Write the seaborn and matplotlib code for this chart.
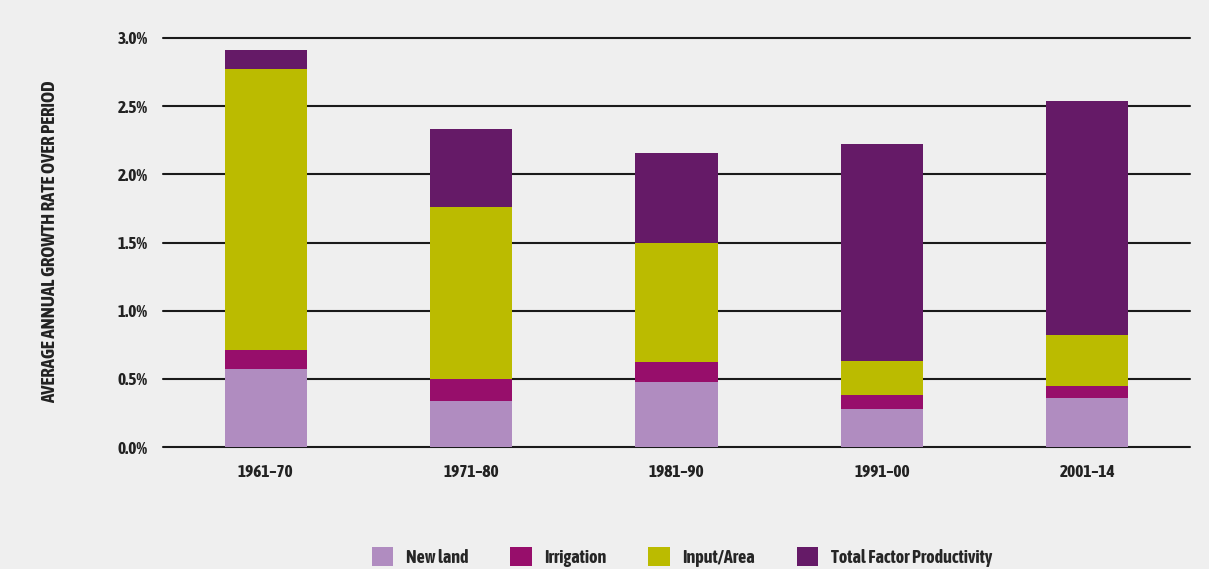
import numpy as np
import pandas as pd
import matplotlib
matplotlib.use("Agg")
import matplotlib.pyplot as plt
import seaborn as sns
from matplotlib import font_manager
from matplotlib.patches import Patch
from matplotlib.ticker import FuncFormatter

# data (percent)
periods = ["1961\u201370", "1971\u201380", "1981\u201390", "1991\u201300", "2001\u201314"]
new_land = [0.57, 0.34, 0.48, 0.28, 0.36]
irrigation = [0.14, 0.16, 0.14, 0.10, 0.09]
input_area = [2.06, 1.26, 0.88, 0.25, 0.37]
tfp = [0.14, 0.57, 0.66, 1.59, 1.72]

series_names = ["New land", "Irrigation", "Input/Area", "Total Factor Productivity"]
colors = ["#b08cc0", "#970e6b", "#bbbb00", "#651a67"]

BG = "#efefef"
sns.set_style("white")

# look for a narrow face that also has a bold cut, the original uses a condensed sans
def _is_narrow(f):
    n = f.name.lower()
    return "narrow" in n or "condensed" in n

narrow_bold = sorted({f.name for f in font_manager.fontManager.ttflist
                      if _is_narrow(f) and (f.weight in ("bold", 700) or
                                            (isinstance(f.weight, int) and f.weight >= 600))})
narrow_any = sorted({f.name for f in font_manager.fontManager.ttflist if _is_narrow(f)})
narrow = narrow_bold or narrow_any
plt.rcParams["font.family"] = narrow[:1] + ["DejaVu Sans"]
fs = 12.5 if narrow else 10

df = pd.DataFrame({"period": periods, "New land": new_land, "Irrigation": irrigation,
                   "Input/Area": input_area, "Total Factor Productivity": tfp})
cum = df[series_names].cumsum(axis=1)

fig = plt.figure(figsize=(12.09, 5.69), dpi=100, facecolor=BG)
ax = fig.add_axes([163 / 1209, 1 - 447 / 569, 1027 / 1209, 409 / 569])
ax.set_facecolor(BG)

# draw cumulative layers from top to bottom so each covers the one below
for name, col in reversed(list(zip(series_names, colors))):
    sns.barplot(x=df["period"], y=cum[name], color=col, width=0.4,
                saturation=1, ax=ax, zorder=3, linewidth=0)

ax.set_xlim(-0.5, 4.5)
ax.set_ylim(0, 3.0)
ax.set_yticks(np.arange(0, 3.01, 0.5))
ax.yaxis.set_major_formatter(FuncFormatter(lambda v, p: f"{v:.1f}%"))
ax.grid(axis="y", color="#1a1a1a", linewidth=1.5, zorder=0)
for gl in ax.get_ygridlines():
    gl.set_clip_on(False)
ax.set_axisbelow(True)
for s in ax.spines.values():
    s.set_visible(False)
ax.tick_params(axis="both", length=0, labelsize=fs, colors="#222222")
ax.tick_params(axis="y", pad=11)
ax.tick_params(axis="x", pad=12)
for lbl in ax.get_xticklabels() + ax.get_yticklabels():
    lbl.set_fontweight("bold")
ax.set_xlabel("")
ax.set_ylabel("")

fig.text(50 / 1209, 1 - 242 / 569, "AVERAGE ANNUAL GROWTH RATE OVER PERIOD",
         rotation=90, ha="center", va="center", fontsize=13.5 if narrow else 8.5,
         fontweight="bold", color="#222222")

handles = [Patch(facecolor=c, edgecolor="none") for c in colors]
fig.legend(handles, series_names, loc="center", bbox_to_anchor=(682 / 1209, 1 - 557 / 569),
           ncol=4, frameon=False, handlelength=1.2, handleheight=1.2,
           columnspacing=2.3, handletextpad=0.7,
           prop={"weight": "bold", "size": 13 if narrow else 10.5})

fig.savefig("out.png", dpi=100, facecolor=BG)
